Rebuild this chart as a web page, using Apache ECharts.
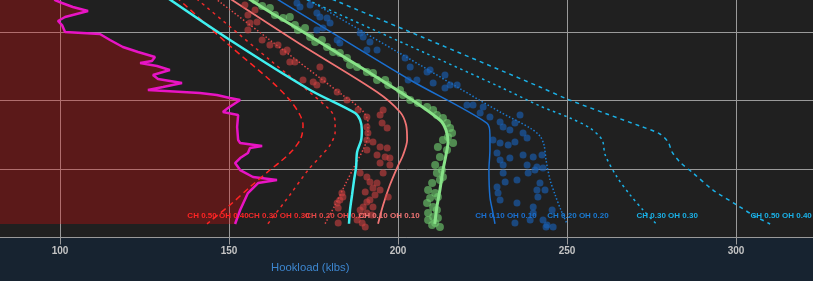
<!DOCTYPE html>
<html><head><meta charset="utf-8">
<script src="https://cdn.jsdelivr.net/npm/echarts@6/dist/echarts.min.js"></script>
<style>html,body{margin:0;padding:0;background:#172330;}#c{width:813px;height:281px;}</style>
</head><body><div id="c"></div>
<script>
// ---- data: [hookload klbs, depth ft] ----
const axisTitle = 'Hookload (klbs)';
const frictionLabels = ['CH 0.50 OH 0.40', 'CH 0.30 OH 0.30', 'CH 0.20 OH 0.20', 'CH 0.10 OH 0.10'];

const magentaTrace = [[97.6,2387],[98.5,2533],[100.6,2577],[103.8,2635],[108.3,2693],[101.5,2781],[99.4,2839],[100.6,2898],[101.5,3000],[111.8,3029],[114.8,3117],[118.6,3219],[123.1,3292],[128.1,3365],[127.2,3423],[123.7,3453],[128.7,3496],[132.5,3555],[127.5,3628],[129.0,3686],[136.1,3745],[130.5,3803],[126.0,3847],[141.4,3891],[146.4,3920],[150.3,3964],[153.3,3993],[149.7,4110],[148.2,4168],[152.7,4212],[152.4,4387],[152.7,4577],[153.3,4620],[159.8,4664],[156.2,4694],[155.6,4767],[153.3,4840],[151.8,4913],[153.3,5015],[157.1,5117],[164.2,5161],[158.6,5205],[155.6,5351],[153.3,5599],[151.8,5803]];

const cyanTrend = [[128.4,2387],[150.3,3117],[174.0,3847],[187.3,4183],[188.8,4285],[189.3,4431],[189.1,4577],[187.9,4752],[187.6,4971],[187.0,5161],[186.4,5380],[185.8,5599],[185.5,5800]];

const slackCH50 = [[132.0,2387],[137.0,2606],[150.3,3204],[162.1,3701],[168.0,3993],[171.0,4212],[171.9,4358],[171.3,4548],[168.9,4723],[165.1,4898],[162.1,5015],[156.2,5263],[150.3,5526],[143.5,5800]];
const slackCH30 = [[137.3,2387],[162.1,3409],[179.9,4139],[181.4,4314],[181.4,4460],[179.9,4650],[176.9,4825],[173.4,5015],[168.0,5380],[161.5,5800]];
const slackCH20 = [[142.6,2387],[162.1,3117],[182.8,3891],[189.3,4139],[191.1,4314],[191.1,4504],[189.9,4694],[187.3,4942],[184.3,5234],[181.4,5526],[178.4,5800]];
const slackCH10 = [[146.4,2387],[171.0,3175],[193.8,3876],[200.6,4168],[202.4,4358],[202.7,4577],[201.5,4796],[199.7,4986],[197.6,5234],[195.6,5526],[194.1,5800]];

const greenTrend = [[151.8,2387],[162.1,2708],[171.0,2971],[199.7,3847],[212.4,4285],[214.2,4431],[214.8,4606],[214.2,4796],[213.3,5015],[212.4,5307],[211.5,5555],[210.9,5800]];

const pickCH10 = [[159.8,2387],[171.0,2723],[203.6,3701],[226.3,4329],[227.2,4504],[227.2,4723],[226.9,5015],[227.2,5409],[228.1,5643],[228.7,5800]];
const pickCH20 = [[168.4,2387],[206.5,3482],[217.5,3803],[230.2,4168],[239.1,4402],[242.0,4519],[243.2,4650],[243.8,4869],[245.0,5161],[246.5,5380],[248.2,5599],[250.0,5800]];
const pickCH30 = [[166.6,2387],[207.4,3292],[230.2,3803],[242.0,4080],[250.9,4256],[256.8,4402],[260.4,4577],[261.3,4796],[264.8,5117],[268.7,5380],[272.5,5599],[276.4,5800]];
const pickCH50 = [[174.0,2387],[207.1,3073],[242.0,3803],[250.0,3978],[261.8,4197],[271.6,4373],[277.5,4489],[279.9,4606],[281.1,4752],[283.4,4898],[287.3,5059],[293.2,5307],[300.3,5526],[305.0,5672],[310.1,5803]];

const redPoints = [[154.7,2606],[155.6,2752],[157.7,2679],[156.2,2869],[158.3,2854],[155.6,2971],[159.8,3117],[162.1,3190],[164.5,3190],[166.0,3292],[167.2,3263],[168.0,3438],[169.5,3438],[171.9,3701],[174.9,3730],[176.0,3774],[176.9,3511],[177.8,3701],[182.0,3876],[184.9,3993],[188.2,4139],[190.8,4241],[190.8,4387],[191.1,4475],[194.7,4212],[195.3,4329],[196.8,4402],[195.6,4139],[190.8,4577],[192.6,4606],[194.7,4679],[196.8,4694],[190.8,4723],[193.8,4796],[196.2,4825],[197.6,4840],[194.7,4913],[197.6,4942],[195.6,5059],[188.8,5059],[190.8,5117],[191.7,5190],[193.8,5205],[192.6,5278],[194.7,5307],[190.3,5336],[193.2,5380],[197.1,5409],[191.7,5453],[183.7,5409],[182.8,5453],[182.0,5497],[183.4,5351],[182.3,5570],[190.8,5482],[189.7,5555],[192.6,5555],[188.8,5599],[190.8,5643],[187.9,5745],[189.4,5789],[190.3,5847],[182.3,5789],[192.3,5672]];

const greenPoints = [[157.7,2533],[159.8,2621],[162.1,2650],[163.6,2752],[166.0,2796],[168.0,2781],[169.5,2898],[170.4,2971],[172.5,2942],[174.0,3073],[175.5,3146],[177.5,3117],[179.0,3219],[180.8,3292],[182.8,3307],[184.9,3380],[185.8,3482],[187.9,3511],[190.8,3584],[192.6,3599],[193.8,3701],[196.2,3701],[197.1,3774],[200.6,3847],[201.5,3920],[203.6,3993],[205.9,4037],[208.6,4095],[210.4,4139],[211.5,4212],[213.3,4256],[214.5,4329],[215.4,4402],[216.0,4475],[214.8,4533],[213.3,4577],[216.3,4621],[211.8,4679],[212.4,4825],[214.5,4723],[211.0,4942],[213.0,5015],[211.5,5059],[213.3,5117],[210.1,5205],[212.4,5161],[208.9,5307],[211.0,5351],[209.5,5424],[211.8,5409],[208.6,5497],[210.4,5555],[211.5,5599],[208.9,5643],[210.4,5701],[211.8,5716],[208.9,5745],[211.0,5789],[212.4,5847],[210.1,5818]];

const bluePoints = [[170.1,2577],[171.0,2635],[174.0,2606],[176.0,2723],[176.9,2781],[179.0,2796],[179.9,2869],[176.0,2971],[177.8,2942],[182.0,3117],[182.8,3161],[188.8,3015],[189.7,3073],[191.7,3146],[193.8,3263],[190.8,3263],[202.1,3380],[203.6,3511],[203.0,3701],[205.6,3701],[208.6,3584],[209.5,3555],[210.4,3745],[213.9,3628],[213.9,3818],[217.5,3774],[215.4,3774],[220.4,4066],[222.2,4066],[225.2,4095],[224.3,4183],[227.2,4241],[230.2,4314],[231.1,4387],[233.1,4431],[234.6,4329],[236.1,4212],[237.0,4475],[238.2,4548],[228.1,4577],[230.2,4621],[232.6,4650],[234.6,4606],[229.3,4767],[230.2,4869],[231.1,4942],[233.1,4840],[237.0,4796],[240.0,4825],[238.2,4942],[241.1,4971],[238.5,5059],[240.5,5015],[231.1,5059],[235.2,5161],[242.0,5205],[231.7,5190],[229.3,5263],[229.6,5351],[230.2,5453],[241.1,5307],[243.5,5307],[241.4,5409],[235.2,5497],[240.0,5555],[242.6,4796],[242.9,4986],[245.6,5599],[239.1,5745],[234.6,5789],[242.9,5745],[244.1,5818],[245.9,5847],[243.8,5847],[240.0,5643]];

// ---- chart ----
const FONT = 'Liberation Sans, Arial, sans-serif';
function endMark(arr, text, color) {
  return {
    silent: true, symbol: 'circle', symbolSize: 0, animation: false,
    label: { show: true, position: 'inside', formatter: text, color: color, fontSize: 8, fontWeight: 'bold', fontFamily: FONT, offset: [11, -8] },
    data: [{ coord: arr[arr.length - 1] }]
  };
}
function lineSeries(name, arr, color, width, type, label, z) {
  const s = {
    name: name, type: 'line', data: arr, symbol: 'none', smooth: 0.3, z: z || 3,
    lineStyle: { color: color, width: width, type: type, cap: 'butt' },
    silent: true, animation: false
  };
  if (label) s.markPoint = endMark(arr, label, color);
  return s;
}
function scatterSeries(name, arr, color, size) {
  return { name: name, type: 'scatter', data: arr, symbolSize: size, z: 4,
    itemStyle: { color: color }, silent: true, animation: false };
}

const chart = echarts.init(document.getElementById('c'), null, { renderer: 'canvas' });
chart.setOption({
  backgroundColor: '#172330',
  animation: false,
  title: { text: axisTitle, left: 266, top: 257, textStyle: { color: '#3d86cf', fontSize: 11.3, fontWeight: 'normal', fontFamily: FONT } },
  grid: { left: -109, right: -92, top: -36.5, bottom: 43.5, show: true, backgroundColor: '#202020', borderWidth: 0, containLabel: false, outerBoundsMode: 'none' },
  xAxis: {
    type: 'value', min: 50, max: 350, interval: 50,
    axisLine: { show: true, onZero: false, lineStyle: { color: '#9a9a9a', width: 1 } },
    axisTick: { show: true, length: 7, lineStyle: { color: '#9a9a9a' } },
    axisLabel: { color: '#c4c4c4', fontSize: 10, fontWeight: 'bold', fontFamily: FONT, margin: 9, showMinLabel: false, showMaxLabel: false },
    splitLine: { show: true, lineStyle: { color: '#9a9a9a', width: 1 } }
  },
  yAxis: {
    type: 'value', min: 2000, max: 6000, interval: 1000, inverse: true,
    axisLine: { show: false }, axisTick: { show: false }, axisLabel: { show: false },
    splitLine: { show: true, lineStyle: { color: '#9a9a9a', width: 1 } }
  },
  series: [
    { type: 'custom', name: 'fill', z: 1, silent: true, data: [[100, 3000]],
      renderItem: function (params, api) {
        const pts = magentaTrace.map(function (p) { return api.coord(p); });
        const last = magentaTrace[magentaTrace.length - 1];
        pts.push(api.coord([50, last[1]]));
        pts.push(api.coord([50, magentaTrace[0][1]]));
        return { type: 'polygon', shape: { points: pts }, style: { fill: 'rgba(230,10,10,0.3)' } };
      } },
    { name: 'magenta', type: 'line', data: magentaTrace, symbol: 'none', z: 3, silent: true,
      lineStyle: { color: '#e814c4', width: 2.5 } },
    scatterSeries('redPts', redPoints, 'rgba(205,65,65,0.75)', 7),
    scatterSeries('greenPts', greenPoints, 'rgba(110,200,110,0.8)', 8),
    scatterSeries('bluePts', bluePoints, 'rgba(25,95,180,0.8)', 7),
    lineSeries('s50', slackCH50, '#ff2424', 1.5, [6, 4], frictionLabels[0]),
    lineSeries('s30', slackCH30, '#f02a2a', 1.5, [3, 4], frictionLabels[1]),
    lineSeries('s20', slackCH20, '#e24848', 1.5, [1.5, 2], frictionLabels[2]),
    lineSeries('s10', slackCH10, '#f07474', 1.8, 'solid', frictionLabels[3]),
    lineSeries('cyan', cyanTrend, '#3ff0f0', 2.5, 'solid', null, 5),
    lineSeries('green', greenTrend, '#88e288', 3, 'solid', null, 5),
    lineSeries('p10', pickCH10, '#1a6fd0', 1.5, 'solid', frictionLabels[3]),
    lineSeries('p20', pickCH20, '#1a7ad2', 1.5, [1.5, 2], frictionLabels[2]),
    lineSeries('p30', pickCH30, '#1ab0e6', 1.5, [2.5, 3.5], frictionLabels[1]),
    lineSeries('p50', pickCH50, '#1ab0e6', 1.5, [4, 4], frictionLabels[0])
  ]
});
</script></body></html>
